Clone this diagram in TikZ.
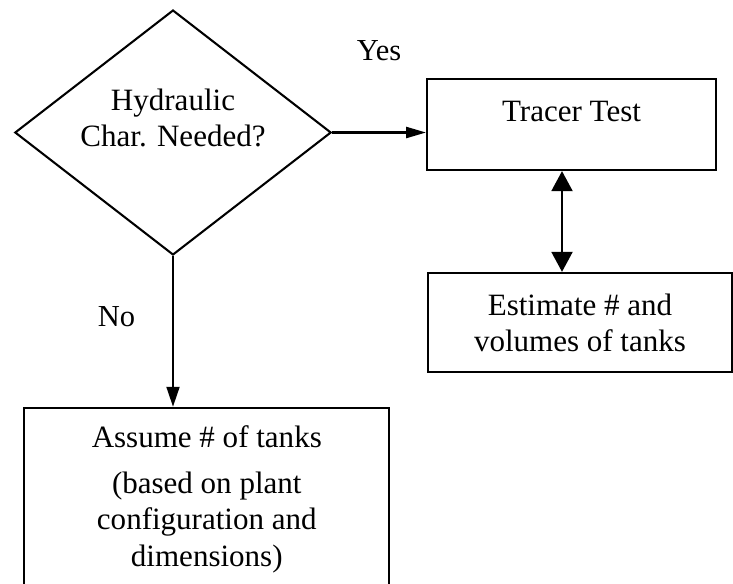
\documentclass[tikz,border=0pt]{standalone}
\usepackage{fontspec}
\setmainfont{Liberation Serif}
\usetikzlibrary{arrows.meta, positioning, shapes.geometric}

\begin{document}
\begin{tikzpicture}[x=0.0136cm, y=-0.0136cm, >=Triangle, line width=0.8pt, font=\fontsize{12}{14}\selectfont]
        % Estilos para los bloques, la decision y las etiquetas
        \tikzstyle{decision} = [draw, diamond, aspect=1.3, inner sep=0pt, minimum width=4.30cm, minimum height=3.33cm, align=center]
        \tikzstyle{block} = [draw, rectangle, align=center]
        \tikzstyle{branch} = [inner sep=0pt, font=\fontsize{11.8}{13}\selectfont]

        \clip (0,0) rectangle (733,583);

        % Nodes
        \node at (173,132.5) [decision, text depth=11.4pt] (charNeeded) {Hydraulic\\Char. Needed?};
        \node at (571.5,124.5) [block, minimum width=3.93cm, minimum height=1.24cm, text depth=10pt] (tracerTest) {Tracer Test};
        \node at (580,322.5) [block, minimum width=4.13cm, minimum height=1.35cm] (estimateTanks) {Estimate \# and\\volumes of tanks};
        \node at (206.8,406.7) [block, anchor=north, minimum width=4.96cm, minimum height=2.48cm] (assumeTanks) {Assume \# of tanks\\[4pt](based on plant\\configuration and\\dimensions)};
        \node at (562,0) [coordinate] (link){};

        % Lines
        \draw [-{Triangle[length=7.7pt, width=4.3pt]}] (charNeeded.east) -- node[branch, above=0.96cm] {Yes} (charNeeded.east -| tracerTest.west);
        \draw [{Triangle[length=7.7pt, width=8.1pt]}-{Triangle[length=7.7pt, width=8.1pt]}] (tracerTest.south -| link) -- (estimateTanks.north -| link);
        \draw [-{Triangle[length=7.7pt, width=5pt]}] (charNeeded.south) -- node[branch, left=0.5cm, pos=0.4] {No} (charNeeded.south |- assumeTanks.north);

\end{tikzpicture}
\end{document}
